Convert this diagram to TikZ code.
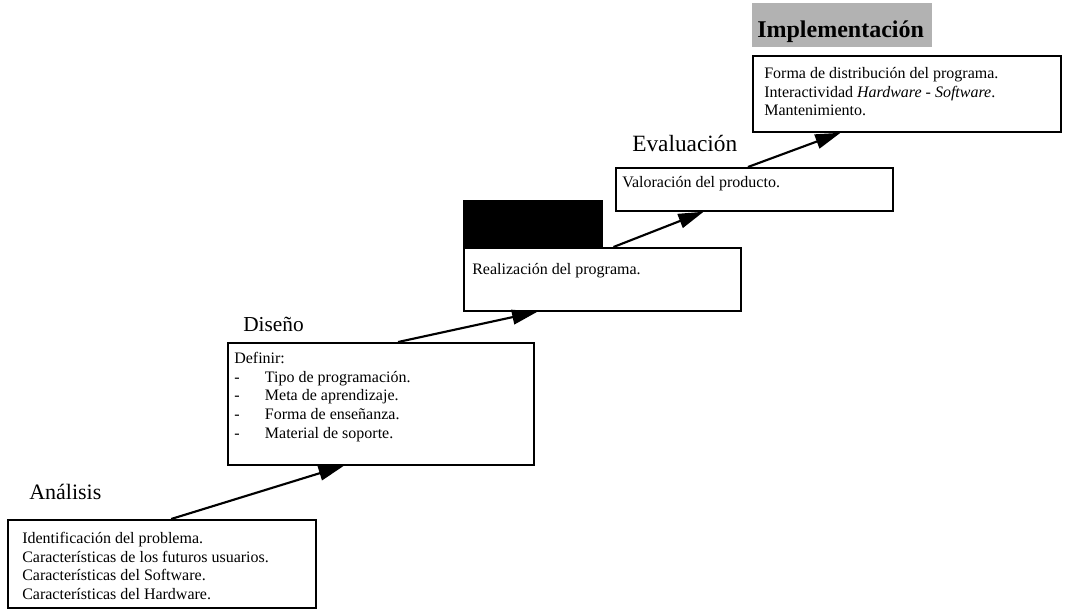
\documentclass[tikz,border=0pt]{standalone}
\usepackage{fontspec}
\setmainfont{Liberation Serif}
\usetikzlibrary{arrows.meta,calc}
\begin{document}
\begin{tikzpicture}[x=0.75pt,y=-0.75pt,
  stagebox/.style={draw=black, line width=1.3pt, fill=white, rectangle,
    inner sep=0pt, anchor=north west},
  sized/.style 2 args={minimum width=#1*0.75pt, minimum height=#2*0.75pt},
  body/.style={anchor=north west, inner sep=0pt, align=left,
    font=\fontsize{12}{14}\selectfont},
  heading/.style={anchor=base west, inner sep=0pt},
  flow/.style={line width=1.6pt, -{Triangle[length=19pt,width=11pt]}}
]
\useasboundingbox (0,0) rectangle (1066,610);

% stage boxes, from the bottom step to the top one
\node[stagebox, sized={308}{88}]  (b1) at (7,519) {};
\node[stagebox, sized={306}{122}] (b2) at (227,342) {};
\node[stagebox, sized={277}{63}]  (b3) at (463,247) {};
\node[stagebox, sized={277}{43}]  (b4) at (615,167) {};
\node[stagebox, sized={308}{76}]  (b5) at (752,55) {};

% title blocks above the boxes
\node[draw=black, fill=black, anchor=north west, inner sep=0pt, sized={139}{47}] (t3) at (463,200) {};
\node[fill=black!30, anchor=north west, inner sep=0pt, sized={180}{44}] (t5) at (752,3) {};

\node[heading, font=\fontsize{16.5}{20}\selectfont] (h1) at (29,499) {Análisis};
\node[heading, font=\fontsize{16}{20}\selectfont] (h2) at (243,331) {Diseño};
\node[heading, font=\fontsize{17.5}{20}\selectfont] (h4) at (632,151) {Evaluación};
\node[heading, font=\fontsize{18}{20}\selectfont\bfseries] (h5) at (757,38) {Implementación};

% box contents
\node[body] (c1) at (22,530) {\strut Identificación del problema.\\
  Características de los futuros usuarios.\\
  Características del Software.\\
  Características del Hardware.};
\node[body] (c2) at (234,350) {\strut Definir:\\
  \makebox[23pt][l]{-}Tipo de programación.\\
  \makebox[23pt][l]{-}Meta de aprendizaje.\\
  \makebox[23pt][l]{-}Forma de enseñanza.\\
  \makebox[23pt][l]{-}Material de soporte.};
\node[body] (c3) at (472,261) {\strut Realización del programa.};
\node[body] (c4) at (622,174) {\strut Valoración del producto.};
\node[body] (c5) at (764,65) {\strut Forma de distribución del programa.\\
  Interactividad \textit{Hardware} - \textit{Software}.\\
  Mantenimiento.};

% step arrows
\draw[flow] ($(b1.north west)!0.53!(b1.north east)$) -- ($(b2.south west)!0.38!(b2.south east)$);
\draw[flow] ($(b2.north west)!0.556!(b2.north east)$) -- ($(b3.south west)!0.267!(b3.south east)$);
\draw[flow] ($(b3.north west)!0.54!(b3.north east)$) -- ($(b4.south west)!0.318!(b4.south east)$);
\draw[flow] ($(b4.north west)!0.477!(b4.north east)$) -- ($(b5.south west)!0.286!(b5.south east)$);
\end{tikzpicture}
\end{document}
